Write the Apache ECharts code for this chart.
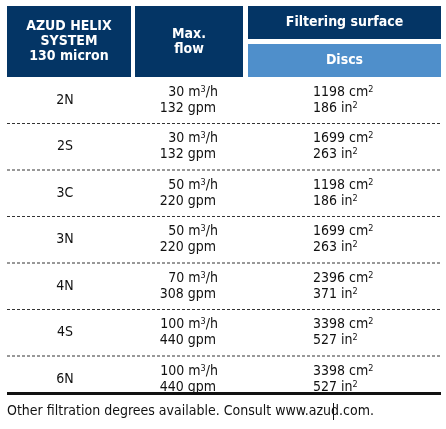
<!DOCTYPE html>
<html><head><meta charset="utf-8">
<script src="https://cdn.jsdelivr.net/npm/echarts@6/dist/echarts.min.js"></script>
<style>html,body{margin:0;padding:0;background:#fff}#c{width:446px;height:429px}</style>
</head><body><div id="c"></div>
<script>
const models = ['2N','2S','3C','3N','4N','4S','6N'];
const flowM3 = [30,30,50,50,70,100,100];
const flowGpm = [132,132,220,220,308,440,440];
const areaCm2 = [1198,1699,1198,1699,2396,3398,3398];
const areaIn2 = [186,263,186,263,371,527,527];
const headers = ['AZUD HELIX\nSYSTEM\n130 micron','Max.\nflow','Filtering surface','Discs'];
const footer = 'Other filtration degrees available. Consult www.azud.com.';

const F = "'Liberation Sans Narrow','DejaVu Sans Condensed',sans-serif";
const dark = '#043565', light = '#4f8fcb';
const g = [];
function box(x,y,w,h,fill,text){
  g.push({type:'rect',shape:{x,y,width:w,height:h},style:{fill}});
  g.push({type:'text',x:x+w/2,y:y+h/2,style:{text,fill:'#fff',font:'bold 14px '+F,align:'center',verticalAlign:'middle',lineHeight:15}});
}
box(7,6,124,71,dark,headers[0]);
box(135,6,108,71,dark,headers[1]);
box(248,6,193,33,dark,headers[2]);
box(248,44,193,33,light,headers[3]);
const top0 = 77, rowH = 46.5;
const rich = {s:{fontSize:9,verticalAlign:'top',padding:[0,0,6,0],fontFamily:F,fill:'#111'}};
models.forEach((m,i)=>{
  const cy = top0 + rowH*(i+0.5);
  g.push({type:'text',x:65,y:cy,style:{text:m,fill:'#111',font:'14px '+F,align:'center',verticalAlign:'middle'}});
  g.push({type:'text',x:218,y:cy-8,style:{text:flowM3[i]+' m{s|3}/h',rich,fill:'#111',font:'14px '+F,align:'right',verticalAlign:'middle'}});
  g.push({type:'text',x:216,y:cy+8,style:{text:flowGpm[i]+' gpm',fill:'#111',font:'14px '+F,align:'right',verticalAlign:'middle'}});
  g.push({type:'text',x:313,y:cy-8,style:{text:areaCm2[i]+' cm{s|2}',rich,fill:'#111',font:'14px '+F,align:'left',verticalAlign:'middle'}});
  g.push({type:'text',x:313,y:cy+8,style:{text:areaIn2[i]+' in{s|2}',rich,fill:'#111',font:'14px '+F,align:'left',verticalAlign:'middle'}});
  const ly = top0 + rowH*(i+1);
  if(i<models.length-1){
    g.push({type:'line',shape:{x1:7,y1:ly,x2:441,y2:ly},style:{stroke:'#333',lineWidth:1,lineDash:[3,2]}});
  }
});
g.push({type:'rect',shape:{x:7,y:392,width:434,height:3},style:{fill:'#111'}});
g.push({type:'text',x:7,y:411,style:{text:footer,fill:'#111',font:'14px '+F,align:'left',verticalAlign:'middle'}});
g.push({type:'rect',shape:{x:333,y:403,width:1,height:17},style:{fill:'#111'}});
const chart = echarts.init(document.getElementById('c'));
chart.setOption({animation:false,graphic:{elements:g}});
</script></body></html>
